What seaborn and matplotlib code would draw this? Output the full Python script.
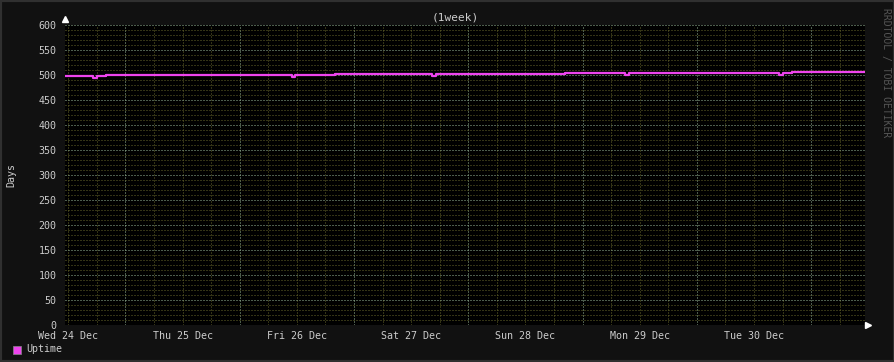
import matplotlib
matplotlib.use("Agg")
import matplotlib.pyplot as plt
import seaborn as sns
import pandas as pd
import numpy as np
from matplotlib.patches import Rectangle

# ---- data (hours since graph start, uptime in days) ----
hours = [0.0, 5.9, 6.7, 8.6, 47.7, 48.3, 56.7, 77.1, 77.9, 105.0, 117.6, 118.4, 149.9, 150.8, 152.7, 168.0]
uptime = [498, 495, 498, 500, 497, 500, 502, 498, 502, 504, 500, 504, 500, 504, 506, 506]

day_labels = ["Wed 24 Dec", "Thu 25 Dec", "Fri 26 Dec", "Sat 27 Dec",
              "Sun 28 Dec", "Mon 29 Dec", "Tue 30 Dec"]
y_ticks = [0, 50, 100, 150, 200, 250, 300, 350, 400, 450, 500, 550, 600]

df = pd.DataFrame({"hours": hours, "Uptime": uptime})

sns.set_theme(style="dark")
plt.rcParams["font.family"] = ["DejaVu Sans Mono"]

W, H = 895, 362
fig = plt.figure(figsize=(W / 100, H / 100), dpi=100)
fig.patch.set_facecolor("#111111")
fig.patches.append(Rectangle((0, 0), 1, 1, transform=fig.transFigure,
                             fill=False, edgecolor="#303030", linewidth=3))

ax = fig.add_axes([65 / W, (H - 325) / H, 800 / W, 300 / H])
ax.set_facecolor("#000000")
for s in ax.spines.values():
    s.set_visible(False)

ax.set_xlim(0, 168)
ax.set_ylim(0, 600)

minor_col = "#66662a"
major_col = "#98b898"
dot = (0, (1, 2))
lw = 0.72

off = 0.7
# vertical grid
for k in range(28):
    x = off + 6 * k
    if x > 168:
        break
    if (k - 2) % 4 == 0:
        ax.axvline(x, color=major_col, lw=lw, ls=dot, zorder=1)
    else:
        ax.axvline(x, color=minor_col, lw=lw, ls=dot, zorder=1)
# horizontal grid
for v in range(0, 601, 10):
    if v % 50 == 0:
        ax.axhline(v, color=major_col, lw=lw, ls=dot, zorder=1)
    else:
        ax.axhline(v, color=minor_col, lw=lw, ls=dot, zorder=1)
ax.grid(False)

sns.lineplot(data=df, x="hours", y="Uptime", ax=ax, color="#ee44ee",
             linewidth=1.6, drawstyle="steps-post", zorder=3, legend=False)

ax.set_yticks(y_ticks)
ax.set_yticklabels([str(v) for v in y_ticks])
ax.set_xticks([off + 24 * i for i in range(len(day_labels))])
ax.set_xticklabels(day_labels)
ax.tick_params(axis="both", length=0, labelsize=7.2, colors="#cccccc")
ax.tick_params(axis="y", pad=6)
ax.tick_params(axis="x", pad=4)
ax.set_xlabel("")
ax.set_ylabel("")

# arrows
ax.plot([0], [1.02], marker="^", color="white", markersize=4,
        transform=ax.transAxes, clip_on=False)
ax.plot([1.004], [0], marker=">", color="white", markersize=4,
        transform=ax.transAxes, clip_on=False)

fig.text(455 / W, 1 - 17 / H, "(1week)", ha="center", va="center",
         color="#cccccc", fontsize=8)
fig.text(11 / W, 1 - 175 / H, "Days", ha="center", va="center",
         rotation=90, color="#cccccc", fontsize=7.2)
fig.text(886 / W, 1 - 73 / H, "RRDTOOL / TOBI OETIKER", ha="center", va="center",
         rotation=270, color="#555555", fontsize=7)

# legend
fig.patches.append(Rectangle((13 / W, 1 - 354 / H), 8 / W, 8 / H,
                             transform=fig.transFigure, facecolor="#ee44ee",
                             edgecolor="#888888", linewidth=0.5))
fig.text(26 / W, 1 - 349 / H, "Uptime", ha="left", va="center",
         color="#cccccc", fontsize=7.2)

fig.savefig("out.png", dpi=100, facecolor=fig.get_facecolor())
